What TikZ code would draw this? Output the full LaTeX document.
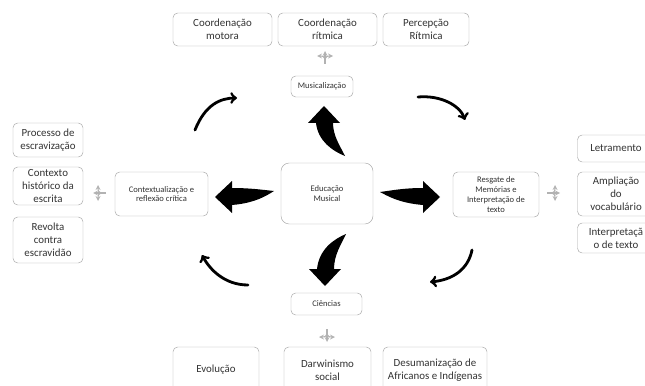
\documentclass[tikz,border=0pt]{standalone}
\usepackage{fontspec}
\setmainfont{Carlito}
\usetikzlibrary{arrows,positioning,calc}

\tikzset{
  box/.style={draw=black!35, rounded corners=4pt, fill=white, align=center, text=black!80, inner sep=1pt, font=\fontsize{9.3}{11}\selectfont},
  smallbox/.style={box, font=\fontsize{7.3}{8.4}\selectfont},
  loop/.style={->, line width=2.4pt, line cap=round},
  split/.style={draw=black!30, line width=0.9pt, ->, >=stealth},
}

% fat curved arrow: tip, rotation, xscale, tail offset, length
\newcommand{\fatarrow}[5]{%
  \begin{scope}[shift={#1}, rotate=#2, xscale=#3]
    \fill (0,0) -- (-16,-17) -- (-8,-17) .. controls (-6,-0.7*#5) and (0.4*#4,-0.9*#5) .. (#4,-#5)
      .. controls (0.6*#4+3.6,-0.8*#5) and (9,-0.6*#5) .. (9,-17) -- (16,-17) -- cycle;
  \end{scope}}

% small grey three way arrow
\newcommand{\splitter}[2]{%
  \begin{scope}[shift={#1}, rotate=#2]
    \draw[split] (0,-6) -- (0,7);
    \draw[split] (0,-1) .. controls (-2,2) .. (-8,2);
    \draw[split] (0,-1) .. controls (2,2) .. (8,2);
  \end{scope}}

\begin{document}
\begin{tikzpicture}[x=0.03cm, y=0.03cm]
\useasboundingbox (0,0) rectangle (645,385);

% centre
\node[smallbox, rounded corners=7pt, minimum width=2.76cm, minimum height=1.83cm] (edu) at (327,191.5) {Educação\\Musical};

\node[smallbox, minimum width=1.86cm, minimum height=0.63cm] (mus) at (322,298.5) {Musicalização};
\node[smallbox, minimum width=2.79cm, minimum height=1.32cm] (cont) at (161.5,191) {Contextualização e\\reflexão crítica};
\node[smallbox, minimum width=2.58cm, minimum height=1.35cm] (res) at (496,190.5) {Resgate de\\Memórias e\\Interpretação de\\texto};
\node[smallbox, minimum width=2.13cm, minimum height=0.66cm] (cie) at (326.5,81) {Ciências};

% top
\node[box, minimum width=2.97cm, minimum height=0.99cm] (motora) at (222.5,355.5) {Coordenação\\motora};
\node[box, minimum width=2.97cm, minimum height=0.99cm] (ritmica) at (327.5,355.5) {Coordenação\\rítmica};
\node[box, minimum width=2.58cm, minimum height=0.99cm] (percep) at (426,355.5) {Percepção\\Rítmica};

% left
\node[box, minimum width=2.1cm, minimum height=1.02cm] (proc) at (48,245) {Processo de\\escravização};
\node[box, minimum width=2.1cm, minimum height=1.14cm] (ctx) at (48,199) {Contexto\\histórico da\\escrita};
\node[box, minimum width=2.1cm, minimum height=1.38cm] (rev) at (48,145) {Revolta\\contra\\escravidão};

% right
\node[box, minimum width=2.31cm, minimum height=0.81cm] (letr) at (616,236.5) {Letramento};
\node[box, minimum width=2.31cm, minimum height=1.32cm] (ampl) at (616,191) {Ampliação\\do\\vocabulário};
\node[box, minimum width=2.31cm, minimum height=0.9cm] (interp) at (616,147) {Interpretaçã\\o de texto};

% bottom
\node[box, minimum width=2.58cm, minimum height=1.38cm] (evo) at (216,15) {Evolução};
\node[box, minimum width=2.61cm, minimum height=1.38cm] (darw) at (327.5,15) {Darwinismo\\social};
\node[box, minimum width=3.12cm, minimum height=1.38cm] (desum) at (435,15) {Desumanização de\\Africanos e Indígenas};

% big arrows out of the centre
\fatarrow{(324,279)}{0}{1}{21}{50}
\fatarrow{(215,188)}{90}{1}{6}{59}
\fatarrow{(440,188)}{-90}{-1}{5}{60}
\fatarrow{(325,99)}{180}{-1}{21}{52}

% thin arrows round the cycle
\coordinate (tla) at (195,255); \coordinate (tlb) at (237,287);
\coordinate (tra) at (418,288); \coordinate (trb) at (465,265);
\coordinate (bra) at (472,135); \coordinate (brb) at (430,103);
\coordinate (bla) at (248,100); \coordinate (blb) at (202,130);
\draw[loop] (tla) .. controls (205,280) and (220,287) .. (tlb);
\draw[loop] (tra) .. controls (440,290) and (460,280) .. (trb);
\draw[loop] (bra) .. controls (468,115) and (452,105) .. (brb);
\draw[loop] (bla) .. controls (225,100) and (210,115) .. (blb);

% splitters
\splitter{(325,327)}{0}
\splitter{(100,192)}{90}
\splitter{(553,192)}{-90}
\splitter{(327,50)}{180}

\end{tikzpicture}
\end{document}
